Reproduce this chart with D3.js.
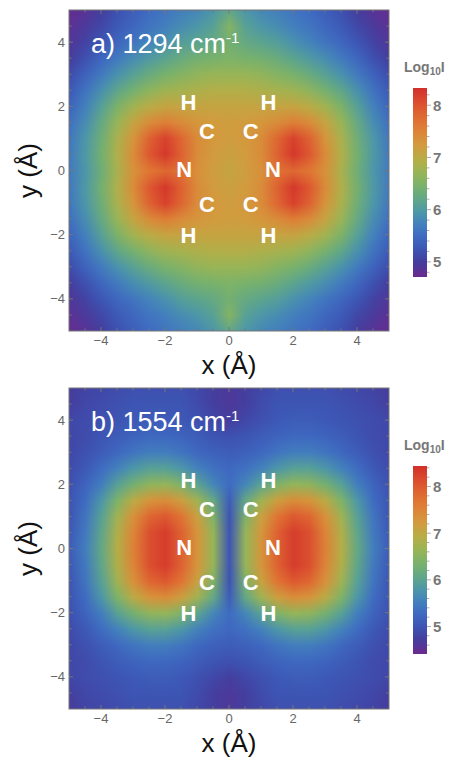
<!DOCTYPE html>
<html>
<head>
<meta charset="utf-8">
<script src="https://cdn.jsdelivr.net/npm/d3@7"></script>
<style>
  html, body { margin: 0; padding: 0; background: #fff; }
  svg { display: block; }
</style>
</head>
<body>
<div id="chart"></div>
<script>
// grid coordinates (Å) of one quadrant, x >= 0 and y >= 0; the maps are mirrored into the other three
const gridCoords = [0, 0.5, 1, 1.5, 2, 2.5, 3, 3.5, 4, 4.5, 5]

const quadrant1294 = [
    [7.10, 7.20, 7.35, 7.70, 7.80, 7.65, 7.35, 6.85, 6.35, 5.95, 5.65],
    [7.15, 7.22, 7.40, 7.85, 8.25, 7.95, 7.40, 6.90, 6.40, 5.98, 5.65],
    [7.20, 7.25, 7.40, 7.80, 8.15, 7.85, 7.30, 6.85, 6.35, 5.95, 5.62],
    [7.20, 7.22, 7.28, 7.40, 7.55, 7.40, 7.10, 6.70, 6.25, 5.85, 5.55],
    [7.10, 7.10, 7.10, 7.10, 7.10, 6.98, 6.78, 6.48, 6.08, 5.72, 5.42],
    [6.92, 6.92, 6.88, 6.82, 6.76, 6.62, 6.42, 6.18, 5.88, 5.58, 5.30],
    [6.70, 6.70, 6.65, 6.55, 6.45, 6.30, 6.10, 5.90, 5.65, 5.40, 5.15],
    [6.50, 6.45, 6.40, 6.30, 6.15, 6.00, 5.85, 5.65, 5.45, 5.20, 5.00],
    [6.40, 6.25, 6.15, 6.05, 5.90, 5.75, 5.60, 5.45, 5.25, 5.05, 4.90],
    [6.55, 6.10, 5.95, 5.85, 5.70, 5.60, 5.45, 5.30, 5.10, 4.95, 4.82],
    [6.20, 5.95, 5.80, 5.70, 5.60, 5.50, 5.35, 5.20, 5.00, 4.85, 4.75]
]

const quadrant1554 = [
    [5.00, 6.60, 7.30, 7.90, 8.30, 8.10, 7.55, 6.90, 6.10, 5.50, 5.10],
    [5.00, 6.60, 7.30, 7.90, 8.30, 8.10, 7.50, 6.85, 6.05, 5.45, 5.05],
    [5.00, 6.40, 7.10, 7.70, 8.00, 7.85, 7.35, 6.70, 5.95, 5.40, 5.00],
    [5.10, 6.10, 6.70, 7.15, 7.40, 7.30, 6.95, 6.40, 5.80, 5.30, 5.00],
    [5.30, 5.60, 6.00, 6.40, 6.60, 6.55, 6.30, 5.95, 5.50, 5.20, 4.95],
    [5.25, 5.35, 5.55, 5.80, 5.95, 5.95, 5.80, 5.55, 5.30, 5.05, 4.90],
    [5.10, 5.15, 5.25, 5.40, 5.50, 5.50, 5.40, 5.25, 5.10, 4.95, 4.85],
    [4.95, 5.00, 5.10, 5.20, 5.25, 5.25, 5.20, 5.10, 5.00, 4.90, 4.85],
    [4.75, 4.85, 4.95, 5.05, 5.10, 5.10, 5.05, 5.00, 4.95, 4.90, 4.85],
    [4.65, 4.75, 4.90, 5.00, 5.00, 5.00, 5.00, 4.95, 4.90, 4.85, 4.75],
    [4.65, 4.75, 4.85, 4.95, 4.95, 4.95, 4.95, 4.90, 4.85, 4.80, 4.70]
]

const colorDomain1294 = [4.71, 8.33]
const colorDomain1554 = [4.41, 8.44]
const colorTicks = [5, 6, 7, 8]
const axisTicks = [-4, -2, 0, 2, 4]

const atomLabels = ["H", "C", "N", "C", "H", "H", "C", "N", "C", "H"]
const atomX = [-1.27, -0.69, -1.40, -0.69, -1.27, 1.23, 0.68, 1.37, 0.68, 1.23]
const atomY = [2.14, 1.24, 0.05, -1.05, -2.0, 2.14, 1.24, 0.05, -1.05, -2.0]

const panelNames = ["a) 1294 cm", "b) 1554 cm"]

// rainbow gradient, bottom to top of the bar
const rainbowColors = ["#6b2a8e", "#443e9e", "#3d56b5", "#3f6cc2", "#4381bd", "#4c96aa",
    "#5da58d", "#78b26c", "#98b557", "#b6ae47", "#d49a3d", "#e07a35", "#dd5630", "#d32f2b"]
const rainbowStops = [0, 0.08, 0.15, 0.22, 0.28, 0.34, 0.40, 0.48, 0.55, 0.62, 0.70, 0.80, 0.90, 1]

const width = 453, height = 758
const svg = d3.select("#chart").append("svg")
    .attr("width", width)
    .attr("height", height)
    .attr("font-family", "'Liberation Sans', Arial, sans-serif")

const panels = [
    { name: panelNames[0], quad: quadrant1294, domain: colorDomain1294, top: 10, bottom: 331, barTop: 88, barBottom: 277 },
    { name: panelNames[1], quad: quadrant1554, domain: colorDomain1554, top: 388, bottom: 709, barTop: 466, barBottom: 654 }
]

const fullGrid = (quad) => {
    // rows from y = +5 down to y = -5, columns x = -5 .. +5
    const n = gridCoords.length
    const idx = d3.range(-(n - 1), n).map(Math.abs)
    return idx.map(r => idx.map(c => quad[r][c])).reverse()
}

panels.forEach((p, pi) => {
    const x = d3.scaleLinear().domain([-5, 5]).range([69, 389])
    const y = d3.scaleLinear().domain([-5, 5]).range([p.bottom, p.top])
    const t = d3.scaleLinear().domain(p.domain).range([0, 1])
    const color = d3.scaleLinear().domain(rainbowStops).range(rainbowColors).interpolate(d3.interpolateRgb)
    const colorOf = v => color(Math.max(0, Math.min(1, t(v))))

    const g = svg.append("g")

    // density map: one pixel per grid point, smoothed by the browser when scaled up
    const grid = fullGrid(p.quad)
    const n = grid.length
    const cv = document.createElement("canvas")
    cv.width = n
    cv.height = n
    const ctx = cv.getContext("2d")
    const img = ctx.createImageData(n, n)
    grid.forEach((row, r) => row.forEach((v, c) => {
        const col = d3.rgb(colorOf(v))
        const k = (r * n + c) * 4
        img.data[k] = col.r
        img.data[k + 1] = col.g
        img.data[k + 2] = col.b
        img.data[k + 3] = 255
    }))
    ctx.putImageData(img, 0, 0)

    const half = (gridCoords[1] - gridCoords[0]) / 2
    svg.append("clipPath").attr("id", "clip" + pi)
        .append("rect")
        .attr("x", x(-5)).attr("y", y(5))
        .attr("width", x(5) - x(-5)).attr("height", y(-5) - y(5))

    g.append("image")
        .attr("href", cv.toDataURL())
        .attr("x", x(-5 - half))
        .attr("y", y(5 + half))
        .attr("width", x(5 + half) - x(-5 - half))
        .attr("height", y(-5 - half) - y(5 + half))
        .attr("preserveAspectRatio", "none")
        .attr("clip-path", "url(#clip" + pi + ")")

    // frame with inward ticks on all four sides
    const minor = d3.range(-4.5, 5, 0.5)
    const tickColor = "#777"
    minor.forEach(v => {
        const len = axisTicks.includes(v) ? 4 : 2.5
        g.append("line").attr("x1", x(v)).attr("x2", x(v)).attr("y1", y(-5)).attr("y2", y(-5) - len).attr("stroke", tickColor)
        g.append("line").attr("x1", x(v)).attr("x2", x(v)).attr("y1", y(5)).attr("y2", y(5) + len).attr("stroke", tickColor)
        g.append("line").attr("y1", y(v)).attr("y2", y(v)).attr("x1", x(-5)).attr("x2", x(-5) + len).attr("stroke", tickColor)
        g.append("line").attr("y1", y(v)).attr("y2", y(v)).attr("x1", x(5)).attr("x2", x(5) - len).attr("stroke", tickColor)
    })
    g.append("rect")
        .attr("x", x(-5)).attr("y", y(5))
        .attr("width", x(5) - x(-5)).attr("height", y(-5) - y(5))
        .attr("fill", "none").attr("stroke", tickColor).attr("stroke-width", 1)

    const fmt = v => v < 0 ? "\u2212" + Math.abs(v) : String(v)
    g.selectAll(".xt").data(axisTicks).enter().append("text")
        .attr("x", d => x(d)).attr("y", p.bottom + 14)
        .attr("text-anchor", "middle").attr("font-size", 13).attr("fill", "#666")
        .text(fmt)
    g.selectAll(".yt").data(axisTicks).enter().append("text")
        .attr("x", 65).attr("y", d => y(d) + 4.5)
        .attr("text-anchor", "end").attr("font-size", 13).attr("fill", "#666")
        .text(fmt)

    g.append("text")
        .attr("x", x(0)).attr("y", p.bottom + 43)
        .attr("text-anchor", "middle").attr("font-size", 26).attr("fill", "#111")
        .text("x (Å)")
    g.append("text")
        .attr("transform", "translate(37," + y(0) + ") rotate(-90)")
        .attr("text-anchor", "middle").attr("font-size", 26).attr("fill", "#111")
        .text("y (Å)")

    // panel title
    const title = g.append("text")
        .attr("x", 91).attr("y", p.top + 43)
        .attr("font-size", 27).attr("fill", "#fff")
    title.append("tspan").text(p.name)
    title.append("tspan").attr("font-size", 15).attr("dy", -10).text("-1")

    // atoms
    g.selectAll(".atom").data(atomLabels).enter().append("text")
        .attr("x", (d, i) => x(atomX[i]))
        .attr("y", (d, i) => y(atomY[i]))
        .attr("dy", "0.36em")
        .attr("text-anchor", "middle")
        .attr("font-size", 22).attr("font-weight", "bold").attr("fill", "#fff")
        .text(d => d)

    // colour bar
    const cb = d3.scaleLinear().domain(p.domain).range([p.barBottom, p.barTop])
    const gradId = "grad" + pi
    const grad = svg.append("defs").append("linearGradient").attr("id", gradId)
        .attr("x1", 0).attr("x2", 0).attr("y1", 1).attr("y2", 0)
    rainbowStops.forEach((s, i) => grad.append("stop").attr("offset", s).attr("stop-color", rainbowColors[i]))
    g.append("rect")
        .attr("x", 413).attr("y", p.barTop)
        .attr("width", 14).attr("height", p.barBottom - p.barTop)
        .attr("fill", "url(#" + gradId + ")")
    const cbMinor = d3.range(Math.ceil(p.domain[0] * 5) / 5, p.domain[1], 0.2)
    cbMinor.forEach(v => {
        const major = Math.abs(v - Math.round(v)) < 1e-6
        g.append("line")
            .attr("x1", 427).attr("x2", 427 + (major ? 4 : 2.5))
            .attr("y1", cb(v)).attr("y2", cb(v))
            .attr("stroke", "#999").attr("stroke-width", 0.8)
    })
    g.selectAll(".ct").data(colorTicks).enter().append("text")
        .attr("x", 433).attr("y", d => cb(d) + 5.5)
        .attr("font-size", 15).attr("font-weight", "bold").attr("fill", "#777")
        .text(d => d)
    const lab = g.append("text")
        .attr("x", 404).attr("y", p.barTop - 16)
        .attr("font-size", 14).attr("font-weight", "bold").attr("fill", "#777")
    lab.append("tspan").text("Log")
    lab.append("tspan").attr("font-size", 10).attr("dy", 3).text("10")
    lab.append("tspan").attr("dy", -3).text("I")
})
</script>
</body>
</html>
